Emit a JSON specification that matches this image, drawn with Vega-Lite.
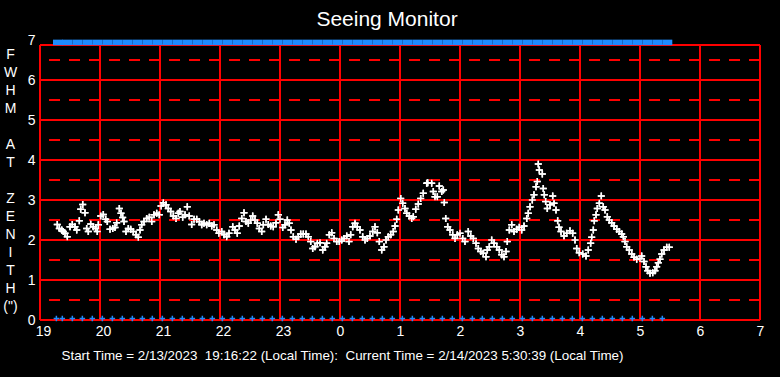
{
 "$schema": "https://vega.github.io/schema/vega-lite/v6.json",
 "width": 720, "height": 280,
 "autosize": {"type": "none"},
 "padding": {"left": 40, "top": 40, "right": 20, "bottom": 57},
 "background": "#000000",
 "config": {
  "view": {"stroke": null},
  "font": "Liberation Sans",
  "axis": {"grid": false, "domain": false, "ticks": false, "labelFlush": false, "labelOverlap": false,
   "labelColor": "#ffffff", "labelFontSize": 14, "labelFont": "Liberation Sans",
   "titleColor": "#ffffff", "titleFontWeight": "normal", "titleFont": "Liberation Sans"},
  "axisX": {"labelPadding": 4, "labelExpr": "datum.value >= 24 ? '' + (datum.value - 24) : '' + datum.value",
   "titleFontSize": 13.4, "titleX": 302, "titleY": 35, "titleAlign": "center", "titleBaseline": "middle"},
  "axisY": {"labelPadding": 5, "titleAngle": 0, "titleFontSize": 14, "titleLineHeight": 18, "titleX": -30, "titleY": 7, "titleAlign": "center", "titleBaseline": "top"}
 },
 "title": {"text": "Seeing Monitor", "color": "#ffffff", "fontSize": 21, "fontWeight": "normal", "font": "Liberation Sans", "frame": "group", "anchor": "middle", "dx": -13, "offset": 3},
 "datasets": {
  "solid": [{"v":0},{"v":1},{"v":2},{"v":3},{"v":4},{"v":5},{"v":6},{"v":6.875}],
  "dashed": [{"v":0.5},{"v":1.5},{"v":2.5},{"v":3.5},{"v":4.5},{"v":5.5},{"v":6.5}],
  "hours": [{"h":19},{"h":20},{"h":21},{"h":22},{"h":23},{"h":24},{"h":25},{"h":26},{"h":27},{"h":28},{"h":29},{"h":30},{"h":31}],
  "seeing": [
{"h":19.288,"v":2.39},{"h":19.322,"v":2.29},{"h":19.362,"v":2.25},{"h":19.388,"v":2.21},{"h":19.417,"v":2.17},{"h":19.455,"v":2.08},{"h":19.5,"v":2.33},{"h":19.538,"v":2.39},{"h":19.583,"v":2.33},{"h":19.612,"v":2.25},{"h":19.655,"v":2.48},{"h":19.678,"v":2.77},{"h":19.712,"v":2.89},{"h":19.75,"v":2.68},{"h":19.778,"v":2.29},{"h":19.805,"v":2.21},{"h":19.845,"v":2.4},{"h":19.888,"v":2.33},{"h":19.928,"v":2.29},{"h":19.955,"v":2.21},{"h":19.972,"v":2.38},
{"h":20.012,"v":2.6},{"h":20.055,"v":2.64},{"h":20.095,"v":2.52},{"h":20.122,"v":2.46},{"h":20.167,"v":2.27},{"h":20.212,"v":2.29},{"h":20.25,"v":2.31},{"h":20.278,"v":2.43},{"h":20.322,"v":2.79},{"h":20.35,"v":2.67},{"h":20.378,"v":2.56},{"h":20.4,"v":2.46},{"h":20.433,"v":2.21},{"h":20.472,"v":2.29},{"h":20.512,"v":2.27},{"h":20.555,"v":2.21},{"h":20.6,"v":2.13},{"h":20.638,"v":2.07},{"h":20.667,"v":2.25},{"h":20.695,"v":2.38},{"h":20.733,"v":2.46},{"h":20.778,"v":2.54},{"h":20.822,"v":2.57},{"h":20.862,"v":2.46},{"h":20.9,"v":2.63},{"h":20.945,"v":2.67},{"h":20.988,"v":2.63},
{"h":21.017,"v":2.85},{"h":21.055,"v":2.93},{"h":21.1,"v":2.88},{"h":21.138,"v":2.79},{"h":21.178,"v":2.71},{"h":21.222,"v":2.6},{"h":21.267,"v":2.54},{"h":21.305,"v":2.67},{"h":21.333,"v":2.71},{"h":21.378,"v":2.57},{"h":21.417,"v":2.63},{"h":21.455,"v":2.83},{"h":21.488,"v":2.6},{"h":21.528,"v":2.39},{"h":21.567,"v":2.52},{"h":21.612,"v":2.52},{"h":21.655,"v":2.46},{"h":21.695,"v":2.38},{"h":21.733,"v":2.42},{"h":21.778,"v":2.38},{"h":21.822,"v":2.42},{"h":21.862,"v":2.35},{"h":21.9,"v":2.38},{"h":21.945,"v":2.25},{"h":21.983,"v":2.17},
{"h":22.028,"v":2.21},{"h":22.067,"v":2.13},{"h":22.112,"v":2.08},{"h":22.15,"v":2.17},{"h":22.212,"v":2.33},{"h":22.25,"v":2.25},{"h":22.288,"v":2.17},{"h":22.322,"v":2.35},{"h":22.362,"v":2.54},{"h":22.4,"v":2.68},{"h":22.433,"v":2.46},{"h":22.472,"v":2.42},{"h":22.512,"v":2.5},{"h":22.545,"v":2.6},{"h":22.583,"v":2.5},{"h":22.622,"v":2.42},{"h":22.655,"v":2.29},{"h":22.695,"v":2.21},{"h":22.722,"v":2.38},{"h":22.767,"v":2.52},{"h":22.805,"v":2.39},{"h":22.845,"v":2.35},{"h":22.888,"v":2.33},{"h":22.933,"v":2.43},{"h":22.972,"v":2.63},
{"h":23.0,"v":2.52},{"h":23.045,"v":2.31},{"h":23.083,"v":2.38},{"h":23.122,"v":2.5},{"h":23.155,"v":2.42},{"h":23.183,"v":2.25},{"h":23.222,"v":2.08},{"h":23.267,"v":2.02},{"h":23.305,"v":2.08},{"h":23.345,"v":2.15},{"h":23.388,"v":2.15},{"h":23.433,"v":2.15},{"h":23.472,"v":2.08},{"h":23.512,"v":1.96},{"h":23.545,"v":1.79},{"h":23.583,"v":1.83},{"h":23.622,"v":1.92},{"h":23.667,"v":1.93},{"h":23.712,"v":1.75},{"h":23.75,"v":1.83},{"h":23.778,"v":1.92},{"h":23.822,"v":2.13},{"h":23.862,"v":2.18},{"h":23.9,"v":2.04},{"h":23.945,"v":1.96},{"h":23.988,"v":1.96},
{"h":24.028,"v":2.0},{"h":24.067,"v":2.04},{"h":24.112,"v":2.1},{"h":24.15,"v":1.96},{"h":24.178,"v":2.13},{"h":24.212,"v":2.33},{"h":24.25,"v":2.42},{"h":24.288,"v":2.33},{"h":24.333,"v":2.25},{"h":24.378,"v":2.08},{"h":24.417,"v":2.0},{"h":24.455,"v":2.04},{"h":24.5,"v":2.1},{"h":24.545,"v":2.21},{"h":24.583,"v":2.33},{"h":24.622,"v":2.18},{"h":24.655,"v":1.96},{"h":24.695,"v":1.75},{"h":24.733,"v":1.83},{"h":24.767,"v":2.0},{"h":24.805,"v":2.08},{"h":24.845,"v":2.13},{"h":24.888,"v":2.21},{"h":24.917,"v":2.35},{"h":24.945,"v":2.52},{"h":24.972,"v":2.75},
{"h":25.012,"v":3.04},{"h":25.045,"v":2.92},{"h":25.083,"v":2.79},{"h":25.112,"v":2.67},{"h":25.155,"v":2.6},{"h":25.195,"v":2.54},{"h":25.222,"v":2.58},{"h":25.262,"v":2.77},{"h":25.305,"v":2.9},{"h":25.345,"v":3.04},{"h":25.388,"v":3.17},{"h":25.445,"v":3.42},{"h":25.462,"v":3.43},{"h":25.528,"v":3.42},{"h":25.555,"v":3.21},{"h":25.583,"v":3.08},{"h":25.622,"v":3.08},{"h":25.655,"v":3.35},{"h":25.695,"v":3.21},{"h":25.722,"v":3.25},{"h":25.738,"v":2.94},{"h":25.762,"v":2.54},{"h":25.795,"v":2.33},{"h":25.833,"v":2.25},{"h":25.878,"v":2.13},{"h":25.917,"v":2.04},{"h":25.955,"v":2.13},
{"h":26.0,"v":2.17},{"h":26.045,"v":2.04},{"h":26.083,"v":1.96},{"h":26.138,"v":2.21},{"h":26.178,"v":2.1},{"h":26.222,"v":2.04},{"h":26.267,"v":1.92},{"h":26.305,"v":1.79},{"h":26.345,"v":1.71},{"h":26.388,"v":1.67},{"h":26.433,"v":1.58},{"h":26.455,"v":1.75},{"h":26.488,"v":1.83},{"h":26.528,"v":2.0},{"h":26.567,"v":1.92},{"h":26.612,"v":1.83},{"h":26.655,"v":1.75},{"h":26.695,"v":1.63},{"h":26.733,"v":1.58},{"h":26.767,"v":1.71},{"h":26.788,"v":1.96},{"h":26.822,"v":2.25},{"h":26.862,"v":2.38},{"h":26.9,"v":2.21},{"h":26.945,"v":2.27},{"h":26.988,"v":2.32},
{"h":27.028,"v":2.25},{"h":27.067,"v":2.35},{"h":27.112,"v":2.54},{"h":27.138,"v":2.67},{"h":27.167,"v":2.83},{"h":27.205,"v":3.0},{"h":27.233,"v":3.13},{"h":27.267,"v":3.33},{"h":27.288,"v":3.46},{"h":27.305,"v":3.9},{"h":27.322,"v":3.75},{"h":27.372,"v":3.65},{"h":27.388,"v":3.29},{"h":27.405,"v":3.13},{"h":27.428,"v":2.96},{"h":27.455,"v":2.79},{"h":27.5,"v":2.88},{"h":27.545,"v":3.1},{"h":27.567,"v":2.92},{"h":27.6,"v":2.75},{"h":27.628,"v":2.48},{"h":27.65,"v":2.32},{"h":27.683,"v":2.21},{"h":27.733,"v":2.1},{"h":27.778,"v":2.17},{"h":27.833,"v":2.23},{"h":27.878,"v":2.17},{"h":27.917,"v":2.0},{"h":27.945,"v":1.79},{"h":27.988,"v":1.68},
{"h":28.045,"v":1.65},{"h":28.1,"v":1.6},{"h":28.138,"v":1.75},{"h":28.178,"v":1.92},{"h":28.195,"v":2.07},{"h":28.222,"v":2.25},{"h":28.238,"v":2.48},{"h":28.267,"v":2.63},{"h":28.288,"v":2.79},{"h":28.322,"v":2.92},{"h":28.355,"v":3.1},{"h":28.388,"v":2.83},{"h":28.417,"v":2.75},{"h":28.455,"v":2.58},{"h":28.488,"v":2.5},{"h":28.528,"v":2.43},{"h":28.567,"v":2.35},{"h":28.612,"v":2.27},{"h":28.655,"v":2.21},{"h":28.695,"v":2.15},{"h":28.722,"v":2.08},{"h":28.75,"v":1.96},{"h":28.778,"v":1.83},{"h":28.822,"v":1.75},{"h":28.862,"v":1.65},{"h":28.9,"v":1.57},{"h":28.945,"v":1.52},
{"h":29.0,"v":1.54},{"h":29.028,"v":1.6},{"h":29.067,"v":1.46},{"h":29.1,"v":1.33},{"h":29.128,"v":1.23},{"h":29.167,"v":1.17},{"h":29.212,"v":1.18},{"h":29.25,"v":1.23},{"h":29.278,"v":1.33},{"h":29.305,"v":1.43},{"h":29.333,"v":1.52},{"h":29.362,"v":1.65},{"h":29.4,"v":1.75},{"h":29.445,"v":1.82},{"h":29.488,"v":1.82}
  ],
  "bottom": [
{"h":19.273},{"h":19.372},{"h":19.539},{"h":19.706},{"h":19.872},
{"h":20.039},{"h":20.206},{"h":20.372},{"h":20.539},{"h":20.706},{"h":20.872},
{"h":21.039},{"h":21.206},{"h":21.372},{"h":21.539},{"h":21.706},{"h":21.872},
{"h":22.039},{"h":22.206},{"h":22.372},{"h":22.539},{"h":22.706},{"h":22.872},
{"h":23.039},{"h":23.206},{"h":23.372},{"h":23.539},{"h":23.706},{"h":23.872},
{"h":24.039},{"h":24.206},{"h":24.372},{"h":24.539},{"h":24.706},{"h":24.872},
{"h":25.039},{"h":25.206},{"h":25.372},{"h":25.539},{"h":25.706},{"h":25.872},
{"h":26.039},{"h":26.206},{"h":26.372},{"h":26.539},{"h":26.706},{"h":26.872},
{"h":27.039},{"h":27.206},{"h":27.372},{"h":27.539},{"h":27.706},{"h":27.872},
{"h":28.039},{"h":28.206},{"h":28.372},{"h":28.539},{"h":28.706},{"h":28.872},
{"h":29.039},{"h":29.206},{"h":29.372}
  ],
  "top": [
{"h":19.3},{"h":19.455},{"h":19.622},{"h":19.789},{"h":19.955},
{"h":20.122},{"h":20.289},{"h":20.455},{"h":20.622},{"h":20.789},{"h":20.955},
{"h":21.122},{"h":21.289},{"h":21.455},{"h":21.622},{"h":21.789},{"h":21.955},
{"h":22.122},{"h":22.289},{"h":22.455},{"h":22.622},{"h":22.789},{"h":22.955},
{"h":23.122},{"h":23.289},{"h":23.455},{"h":23.622},{"h":23.789},{"h":23.955},
{"h":24.122},{"h":24.289},{"h":24.455},{"h":24.622},{"h":24.789},{"h":24.955},
{"h":25.122},{"h":25.289},{"h":25.455},{"h":25.622},{"h":25.789},{"h":25.955},
{"h":26.122},{"h":26.289},{"h":26.455},{"h":26.622},{"h":26.789},{"h":26.955},
{"h":27.122},{"h":27.289},{"h":27.455},{"h":27.622},{"h":27.789},{"h":27.955},
{"h":28.122},{"h":28.289},{"h":28.455},{"h":28.622},{"h":28.789},{"h":28.955},
{"h":29.122},{"h":29.289},{"h":29.455}
  ]
 },
 "layer": [
  {
   "data": {"name": "seeing"},
   "mark": {"type": "point", "shape": "M-1,0H1M0,-1V1", "filled": false, "color": "#ffffff", "size": 49, "opacity": 1, "strokeWidth": 1.5},
   "encoding": {
    "x": {"field": "h", "type": "quantitative", "scale": {"domain": [19, 31], "nice": false, "zero": false},
     "axis": {"values": [19,20,21,22,23,24,25,26,27,28,29,30,31], "labelOverlap": false, "labelFlush": false,
      "labelOffset": {"condition": {"test": "datum.value < 24", "value": 3}, "value": 0},
      "title": "Start Time = 2/13/2023\u00a0 19:16:22 (Local Time):\u00a0 Current Time = 2/14/2023 5:30:39 (Local Time)"}},
    "y": {"field": "v", "type": "quantitative", "scale": {"domain": [0, 7], "nice": false, "zero": false},
     "axis": {"values": [0,1,2,3,4,5,6,7], "labelOverlap": false, "labelFlush": false,
      "title": ["F","W","H","M","\u2800","A","T","\u2800","Z","E","N","I","T","H","(\")"]}}
   }
  },
  {
   "data": {"name": "solid"},
   "mark": {"type": "rule", "color": "#ff0000", "strokeWidth": 2},
   "encoding": {"y": {"field": "v", "type": "quantitative",
     "axis": {"values": [0,1,2,3,4,5,6,7], "labelOverlap": false, "labelFlush": false,
      "title": ["F","W","H","M","\u2800","A","T","\u2800","Z","E","N","I","T","H","(\")"]}}}
  },
  {
   "data": {"name": "dashed"},
   "mark": {"type": "rule", "color": "#ff0000", "strokeWidth": 2, "strokeDash": [11, 9]},
   "encoding": {"y": {"field": "v", "type": "quantitative",
     "axis": {"values": [0,1,2,3,4,5,6,7], "labelOverlap": false, "labelFlush": false,
      "title": ["F","W","H","M","\u2800","A","T","\u2800","Z","E","N","I","T","H","(\")"]}}}
  },
  {
   "data": {"name": "hours"},
   "mark": {"type": "rule", "color": "#ff0000", "strokeWidth": 2},
   "encoding": {
    "x": {"field": "h", "type": "quantitative",
     "axis": {"values": [19,20,21,22,23,24,25,26,27,28,29,30,31], "labelOverlap": false, "labelFlush": false,
      "labelOffset": {"condition": {"test": "datum.value < 24", "value": 3}, "value": 0},
      "title": "Start Time = 2/13/2023\u00a0 19:16:22 (Local Time):\u00a0 Current Time = 2/14/2023 5:30:39 (Local Time)"}},
    "y": {"datum": 0, "type": "quantitative",
     "axis": {"values": [0,1,2,3,4,5,6,7], "labelOverlap": false, "labelFlush": false,
      "title": ["F","W","H","M","\u2800","A","T","\u2800","Z","E","N","I","T","H","(\")"]}},
    "y2": {"datum": 6.875}
   }
  },
  {
   "data": {"name": "top"},
   "mark": {"type": "point", "shape": "M-1,-0.55H1V0.55H-1Z", "filled": true, "color": "#1e8cff", "size": 100, "opacity": 1, "strokeWidth": 0},
   "encoding": {
    "x": {"field": "h", "type": "quantitative",
     "axis": {"values": [19,20,21,22,23,24,25,26,27,28,29,30,31], "labelOverlap": false, "labelFlush": false,
      "labelOffset": {"condition": {"test": "datum.value < 24", "value": 3}, "value": 0},
      "title": "Start Time = 2/13/2023\u00a0 19:16:22 (Local Time):\u00a0 Current Time = 2/14/2023 5:30:39 (Local Time)"}},
    "y": {"datum": 6.94, "type": "quantitative",
     "axis": {"values": [0,1,2,3,4,5,6,7], "labelOverlap": false, "labelFlush": false,
      "title": ["F","W","H","M","\u2800","A","T","\u2800","Z","E","N","I","T","H","(\")"]}}
   }
  },
  {
   "data": {"name": "bottom"},
   "mark": {"type": "point", "shape": "M-1,0H1M0,-1V1", "filled": false, "color": "#1e8cff", "size": 30, "opacity": 1, "strokeWidth": 1.5},
   "encoding": {
    "x": {"field": "h", "type": "quantitative",
     "axis": {"values": [19,20,21,22,23,24,25,26,27,28,29,30,31], "labelOverlap": false, "labelFlush": false,
      "labelOffset": {"condition": {"test": "datum.value < 24", "value": 3}, "value": 0},
      "title": "Start Time = 2/13/2023\u00a0 19:16:22 (Local Time):\u00a0 Current Time = 2/14/2023 5:30:39 (Local Time)"}},
    "y": {"datum": 0.04, "type": "quantitative",
     "axis": {"values": [0,1,2,3,4,5,6,7], "labelOverlap": false, "labelFlush": false,
      "title": ["F","W","H","M","\u2800","A","T","\u2800","Z","E","N","I","T","H","(\")"]}}
   }
  },
  {
   "data": {"name": "seeing"},
   "mark": {"type": "point", "shape": "M-1,0H1M0,-1V1", "filled": false, "color": "#ffffff", "size": 49, "opacity": 1, "strokeWidth": 1.5},
   "encoding": {
    "x": {"field": "h", "type": "quantitative",
     "axis": {"values": [19,20,21,22,23,24,25,26,27,28,29,30,31], "labelOverlap": false, "labelFlush": false,
      "labelOffset": {"condition": {"test": "datum.value < 24", "value": 3}, "value": 0},
      "title": "Start Time = 2/13/2023\u00a0 19:16:22 (Local Time):\u00a0 Current Time = 2/14/2023 5:30:39 (Local Time)"}},
    "y": {"field": "v", "type": "quantitative",
     "axis": {"values": [0,1,2,3,4,5,6,7], "labelOverlap": false, "labelFlush": false,
      "title": ["F","W","H","M","\u2800","A","T","\u2800","Z","E","N","I","T","H","(\")"]}}
   }
  }
 ]
}
